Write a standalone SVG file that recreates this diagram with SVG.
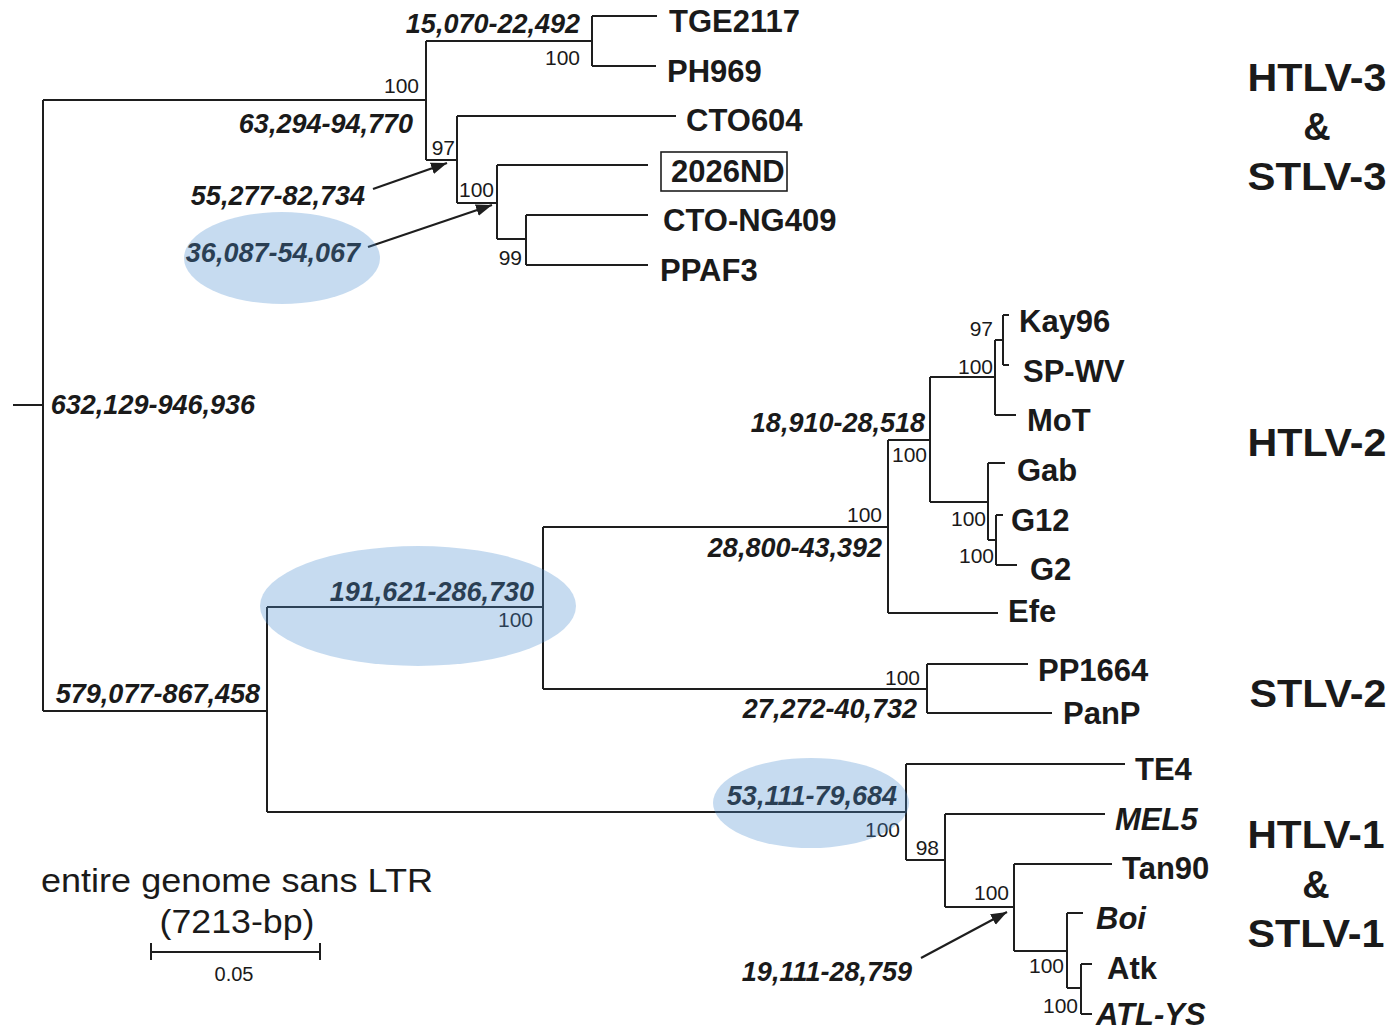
<svg xmlns="http://www.w3.org/2000/svg" width="1395" height="1032" viewBox="0 0 1395 1032">
<style>
text{font-family:"Liberation Sans",Arial,Helvetica,sans-serif;fill:#1a1a1a}
.tx{font-size:31px;font-weight:bold}
.ti{font-size:31px;font-weight:bold;font-style:italic}
.bl{font-size:27px;font-weight:bold;font-style:italic;text-anchor:end}
.bs{font-size:21px;text-anchor:end}
.grp{font-size:38px;font-weight:bold;text-anchor:middle}
.br{fill:none;stroke:#1e1e1e;stroke-width:2}
.ar{fill:none;stroke:#1e1e1e;stroke-width:2.2}
.hl{fill:rgb(77,142,208);fill-opacity:0.32;stroke:none}
</style>
<defs>
<marker id="ah" markerUnits="userSpaceOnUse" markerWidth="18" markerHeight="14" refX="16" refY="6" orient="auto">
<path d="M0,0 L16,6 L0,12 z" fill="#1e1e1e"/>
</marker>
</defs>
<rect width="1395" height="1032" fill="#fff"/>
<g id="connectors">
<path class="br" d="M13,405 H43 M43,100 V711 M43,100 H426 M43,711 H267
M426,41 V160 M426,41 H592 M592,16 V66 M592,16 H657 M592,66 H656 M426,160 H457 M457,116 V203 M457,116 H676 M457,203 H497 M497,165 V239 M497,165 H648 M497,239 H526 M526,215 V265 M526,215 H648 M526,265 H648
M267,607 V812 M267,607 H543 M543,527 V689 M543,527 H888 M888,440 V613 M888,440 H930 M930,377 V502 M930,377 H995 M995,340 V415 M995,340 H1003 M1003,315 V365 M1003,315 H1009 M1003,365 H1009 M995,415 H1016 M930,502 H988 M988,463 V540 M988,463 H1005 M988,540 H996 M996,515 V565 M996,515 H1003 M996,565 H1017 M888,613 H998
M543,689 H927 M927,664 V713 M927,664 H1028 M927,713 H1052
M267,812 H906 M906,764 V860 M906,764 H1125 M906,860 H945 M945,814 V907 M945,814 H1105 M945,907 H1014 M1014,864 V951 M1014,864 H1112 M1014,951 H1067 M1067,913 V988 M1067,913 H1083 M1067,988 H1081 M1081,964 V1014 M1081,964 H1092 M1081,1014 H1092"/>
<path class="ar" d="M373,189 L447,163" marker-end="url(#ah)"/>
<path class="ar" d="M368,247 L492,205" marker-end="url(#ah)"/>
<path class="ar" d="M921,958 L1007,912" marker-end="url(#ah)"/>
</g>
<g id="branch-labels">
<text class="bl" x="580" y="33">15,070-22,492</text>
<text class="bl" x="413" y="133">63,294-94,770</text>
<text class="bl" x="365" y="205">55,277-82,734</text>
<text class="bl" x="360" y="262">36,087-54,067</text>
<text class="bl" x="255" y="414">632,129-946,936</text>
<text class="bl" x="925" y="432">18,910-28,518</text>
<text class="bl" x="882" y="557">28,800-43,392</text>
<text class="bl" x="534" y="601">191,621-286,730</text>
<text class="bl" x="260" y="703">579,077-867,458</text>
<text class="bl" x="917" y="718">27,272-40,732</text>
<text class="bl" x="897" y="805">53,111-79,684</text>
<text class="bl" x="912" y="981">19,111-28,759</text>
</g>
<g id="bootstrap">
<text class="bs" x="419" y="93">100</text>
<text class="bs" x="580" y="65">100</text>
<text class="bs" x="455" y="155">97</text>
<text class="bs" x="494" y="197">100</text>
<text class="bs" x="522" y="265">99</text>
<text class="bs" x="993" y="336">97</text>
<text class="bs" x="993" y="374">100</text>
<text class="bs" x="927" y="462">100</text>
<text class="bs" x="882" y="522">100</text>
<text class="bs" x="986" y="526">100</text>
<text class="bs" x="994" y="563">100</text>
<text class="bs" x="533" y="627">100</text>
<text class="bs" x="920" y="685">100</text>
<text class="bs" x="900" y="837">100</text>
<text class="bs" x="939" y="855">98</text>
<text class="bs" x="1009" y="900">100</text>
<text class="bs" x="1064" y="973">100</text>
<text class="bs" x="1078" y="1013">100</text>
</g>
<g id="node-TGE2117"><text class="tx" x="669" y="32">TGE2117</text></g>
<g id="node-PH969"><text class="tx" x="667" y="82">PH969</text></g>
<g id="node-CTO604"><text class="tx" x="686" y="131">CTO604</text></g>
<g id="node-2026ND"><rect x="661" y="152" width="126" height="39" fill="none" stroke="#1e1e1e" stroke-width="1.6"/><text class="tx" x="671" y="182">2026ND</text></g>
<g id="node-CTO-NG409"><text class="tx" x="663" y="231">CTO-NG409</text></g>
<g id="node-PPAF3"><text class="tx" x="660" y="281">PPAF3</text></g>
<g id="node-Kay96"><text class="tx" x="1019" y="332">Kay96</text></g>
<g id="node-SP-WV"><text class="tx" x="1023" y="382">SP-WV</text></g>
<g id="node-MoT"><text class="tx" x="1027" y="431">MoT</text></g>
<g id="node-Gab"><text class="tx" x="1017" y="481">Gab</text></g>
<g id="node-G12"><text class="tx" x="1011" y="531">G12</text></g>
<g id="node-G2"><text class="tx" x="1030" y="580">G2</text></g>
<g id="node-Efe"><text class="tx" x="1008" y="622">Efe</text></g>
<g id="node-PP1664"><text class="tx" x="1038" y="681">PP1664</text></g>
<g id="node-PanP"><text class="tx" x="1063" y="724">PanP</text></g>
<g id="node-TE4"><text class="tx" x="1135" y="780">TE4</text></g>
<g id="node-MEL5"><text class="ti" x="1115" y="830">MEL5</text></g>
<g id="node-Tan90"><text class="tx" x="1122" y="879">Tan90</text></g>
<g id="node-Boi"><text class="ti" x="1096" y="929">Boi</text></g>
<g id="node-Atk"><text class="tx" x="1107" y="979">Atk</text></g>
<g id="node-ATL-YS"><text class="ti" x="1096" y="1025">ATL-YS</text></g>
<g id="group-labels">
<text class="grp" x="1317" y="91" textLength="139" lengthAdjust="spacingAndGlyphs">HTLV-3</text>
<text class="grp" x="1317" y="140">&amp;</text>
<text class="grp" x="1317" y="190" textLength="139" lengthAdjust="spacingAndGlyphs">STLV-3</text>
<text class="grp" x="1317" y="456" textLength="139" lengthAdjust="spacingAndGlyphs">HTLV-2</text>
<text class="grp" x="1318" y="707" textLength="137" lengthAdjust="spacingAndGlyphs">STLV-2</text>
<text class="grp" x="1316" y="848" textLength="137" lengthAdjust="spacingAndGlyphs">HTLV-1</text>
<text class="grp" x="1316" y="898">&amp;</text>
<text class="grp" x="1316" y="947" textLength="137" lengthAdjust="spacingAndGlyphs">STLV-1</text>
</g>
<g id="highlights">
<ellipse class="hl" cx="282" cy="258" rx="98" ry="46"/>
<ellipse class="hl" cx="418" cy="606" rx="158" ry="60"/>
<ellipse class="hl" cx="811" cy="803" rx="98" ry="45"/>
</g>
<g id="scale">
<text x="237" y="892" style="font-size:33px;text-anchor:middle" textLength="392" lengthAdjust="spacingAndGlyphs">entire genome sans LTR</text>
<text x="237" y="933" style="font-size:34px;text-anchor:middle" textLength="155" lengthAdjust="spacingAndGlyphs">(7213-bp)</text>
<path class="br" d="M151,952 H320 M151,943 V960 M320,943 V960"/>
<text x="234" y="981" style="font-size:20px;text-anchor:middle">0.05</text>
</g>
</svg>
